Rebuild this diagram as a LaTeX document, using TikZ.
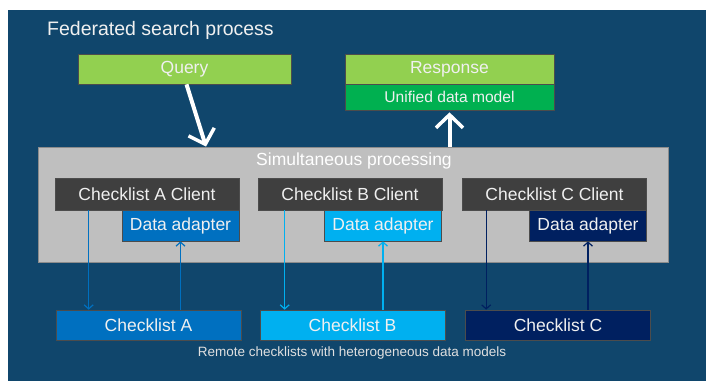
\documentclass[tikz,border=0pt]{standalone}
\usepackage{fontspec}
\setmainfont{Liberation Sans}
\usetikzlibrary{arrows.meta}
\definecolor{bgblue}{HTML}{10466C}
\definecolor{qgreen}{HTML}{92D050}
\definecolor{ugreen}{HTML}{00B050}
\definecolor{procgray}{HTML}{BFBFBF}
\definecolor{clientgray}{HTML}{3F3F3F}
\definecolor{colA}{HTML}{0070C0}
\definecolor{colB}{HTML}{00B0F0}
\definecolor{colC}{HTML}{002060}

\begin{document}
\begin{tikzpicture} [
		x=1pt, y=-1pt,
		box/.style={rectangle, draw=black!70, line width=0.7pt, text=white!94!black, inner sep=0pt, minimum height=30pt, font=\fontsize{17.5}{20}\selectfont},
		client/.style={box, fill=clientgray, minimum width=184pt, minimum height=32pt},
		adapter/.style={box, minimum width=117pt, minimum height=31pt},
		checklist/.style={box, minimum width=185pt},
		bigarrow/.style={white, line width=4pt, -{Straight Barb[length=13pt, width=27pt, line width=3.5pt]}},
		link/.style={line width=1.2pt, -{Straight Barb[length=4pt, width=9pt, line width=1.2pt]}}
	]
	\useasboundingbox (0,0) rectangle (706,381);
	\fill[white] (0,0) rectangle (706,381);
	\fill[bgblue] (8,10) rectangle (706,381);

	\node at (47,30) [anchor=west, inner sep=0pt, text=white!94!black, font=\fontsize{19.5}{22}\selectfont] (title) {Federated search process};

	% query and response
	\node at (184.5,69) [box, fill=qgreen, minimum width=213pt] (query) {Query};
	\node at (449.5,69) [box, fill=qgreen, minimum width=209pt] (resp) {Response};
	\node at (449.5,97) [box, fill=ugreen, minimum width=209pt, minimum height=26pt, font=\fontsize{15.6}{18}\selectfont] (udm) {Unified data model};

	% processing area
	\node at (353,204.5) [rectangle, fill=procgray, draw=black!45, line width=0.8pt, minimum width=630pt, minimum height=115pt] (proc) {};
	\node at (354,161) [text=white, inner sep=0pt, font=\fontsize{17.5}{20}\selectfont] (proclabel) {Simultaneous processing};

	\node at (147,194)   [client] (cliA) {Checklist A Client};
	\node at (350,194)   [client] (cliB) {Checklist B Client};
	\node at (554.5,194) [client] (cliC) {Checklist C Client};
	\node at (180.5,225.5) [adapter, fill=colA] (adpA) {Data adapter};
	\node at (383,225.5)   [adapter, fill=colB] (adpB) {Data adapter};
	\node at (588,225.5)   [adapter, fill=colC] (adpC) {Data adapter};

	% remote checklists
	\node at (148.5,325) [checklist, fill=colA] (chkA) {Checklist A};
	\node at (352.5,325) [checklist, fill=colB] (chkB) {Checklist B};
	\node at (558,325)   [checklist, fill=colC] (chkC) {Checklist C};
	\node at (352,353) [text=white!88!black, inner sep=0pt, font=\fontsize{13.5}{16}\selectfont] (remote) {Remote checklists with heterogeneous data models};

	\draw [bigarrow] ([xshift=2pt]query.south) -- ([xshift=-147pt]proc.north);
	\draw [bigarrow] (proc.north -| udm.south) -- ([yshift=-2pt]udm.south);

	\coordinate (dnA) at ([xshift=34pt]cliA.south west);
	\coordinate (dnB) at ([xshift=27pt]cliB.south west);
	\coordinate (dnC) at ([xshift=24pt]cliC.south west);
	\draw [link, colA] (dnA) -- (dnA |- chkA.north);
	\draw [link, colB] (dnB) -- (dnB |- chkB.north);
	\draw [link, colC] (dnC) -- (dnC |- chkC.north);
	\draw [link, colA] (adpA.south |- chkA.north) -- (adpA.south);
	\draw [link, colB] (adpB.south |- chkB.north) -- (adpB.south);
	\draw [link, colC] (adpC.south |- chkC.north) -- (adpC.south);
\end{tikzpicture}
\end{document}
